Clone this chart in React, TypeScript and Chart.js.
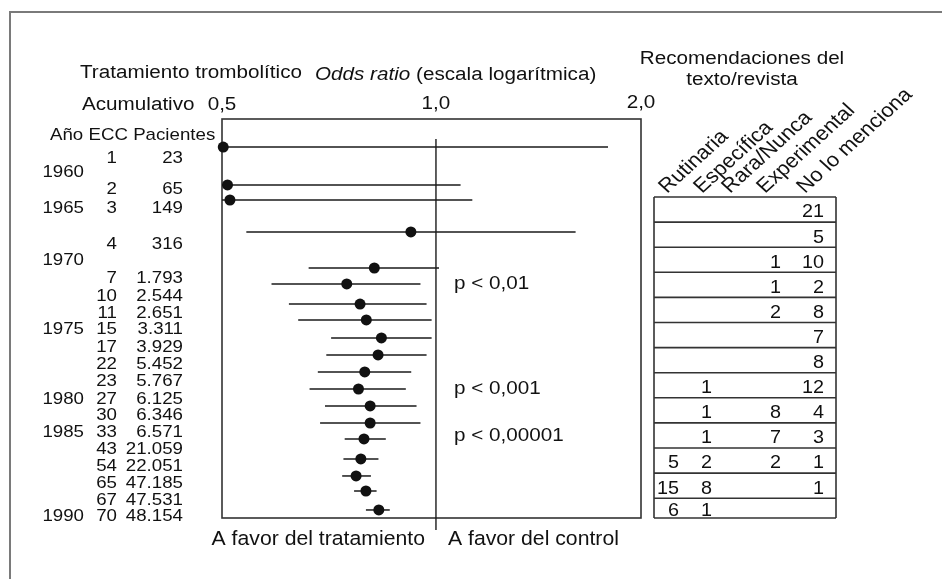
import React, { useEffect, useRef } from "react";
import { Chart, registerables } from "chart.js";
Chart.register(...registerables);

const FONT = '"Liberation Sans", Arial, Helvetica, sans-serif';
const SX = 1.1;
const INK = "#111";

// ---------- data ----------
const trials = ["1", "2", "3", "4", "7", "10", "11", "15", "17", "22", "23", "27", "30", "33", "43", "54", "65", "67", "70"];
const patients = ["23", "65", "149", "316", "1.793", "2.544", "2.651", "3.311", "3.929", "5.452", "5.767", "6.125", "6.346", "6.571", "21.059", "22.051", "47.185", "47.531", "48.154"];
const oddsRatio = [0.502, 0.509, 0.513, 0.922, 0.819, 0.749, 0.782, 0.798, 0.838, 0.829, 0.794, 0.778, 0.808, 0.808, 0.792, 0.784, 0.772, 0.797, 0.831];
const ciLow = [0.3, 0.3, 0.3, 0.541, 0.662, 0.587, 0.621, 0.64, 0.712, 0.701, 0.682, 0.664, 0.698, 0.687, 0.744, 0.741, 0.738, 0.767, 0.797];
const ciHigh = [1.746, 1.083, 1.125, 1.572, 1.01, 0.951, 0.97, 0.986, 0.986, 0.97, 0.923, 0.907, 0.939, 0.951, 0.85, 0.83, 0.81, 0.825, 0.861];
const pointRows = [1.64, 3.86, 4.74, 6.61, 8.72, 9.65, 10.83, 11.76, 12.81, 13.81, 14.8, 15.8, 16.79, 17.79, 18.72, 19.89, 20.89, 21.77, 22.88];
const labelRows = [2.19, 4.01, 5.15, 7.23, 9.27, 10.3, 11.29, 12.23, 13.28, 14.28, 15.24, 16.32, 17.26, 18.23, 19.22, 20.25, 21.24, 22.21, 23.17];
const years = ["1960", "1965", "1970", "1975", "1980", "1985", "1990"];
const yearRows = [3.01, 5.15, 8.19, 12.23, 16.32, 18.23, 23.17];
const axisTicks = [0.5, 1.0, 2.0];
const axisTickLabels = ["0,5", "1,0", "2,0"];
const pLabels = ["p < 0,01", "p < 0,001", "p < 0,00001"];
const pRows = [9.54, 15.68, 18.43];
const pOdds = 1.06;

const recCategories = ["Rutinaria", "Específica", "Rara/Nunca", "Experimental", "No lo menciona"];
const recRutinaria = [null, null, null, null, null, null, null, null, null, null, 5, 15, 6];
const recEspecifica = [null, null, null, null, null, null, null, 1, 1, 1, 2, 8, 1];
const recRaraNunca = [null, null, null, null, null, null, null, null, null, null, null, null, null];
const recExperimental = [null, null, 1, 1, 2, null, null, null, 8, 7, 2, null, null];
const recNoMenciona = [21, 5, 10, 2, 8, 7, 8, 12, 4, 3, 1, 1, null];

// ---------- helpers ----------
function txt(
  ctx: CanvasRenderingContext2D,
  s: string,
  x: number,
  y: number,
  size: number,
  align: CanvasTextAlign = "left",
  italic = false
) {
  ctx.save();
  ctx.translate(x, y);
  ctx.scale(SX, 1);
  ctx.font = `${italic ? "italic " : ""}${size}px ${FONT}`;
  ctx.textAlign = align;
  ctx.textBaseline = "alphabetic";
  ctx.fillStyle = INK;
  ctx.fillText(s, 0, 0);
  ctx.restore();
}
function txtW(ctx: CanvasRenderingContext2D, s: string, size: number, italic = false) {
  ctx.save();
  ctx.font = `${italic ? "italic " : ""}${size}px ${FONT}`;
  const w = ctx.measureText(s).width * SX;
  ctx.restore();
  return w;
}

const decorPlugin = {
  id: "decor",
  beforeDatasetsDraw(chart: any) {
    const ctx: CanvasRenderingContext2D = chart.ctx;
    const { left, right, top, bottom } = chart.chartArea;
    const xs = chart.scales.x;
    const ys = chart.scales.y;
    const W = chart.width;
    const H = chart.height;

    // outer frame
    ctx.save();
    ctx.strokeStyle = "#7a7a7a";
    ctx.lineWidth = 2;
    ctx.beginPath();
    ctx.moveTo(10, H);
    ctx.lineTo(10, 12);
    ctx.lineTo(W, 12);
    ctx.stroke();

    // forest box
    ctx.strokeStyle = "#333";
    ctx.lineWidth = 1.6;
    ctx.strokeRect(left, top, right - left, bottom - top);

    // reference line at 1.0
    const x1 = xs.getPixelForValue(1);
    ctx.strokeStyle = "#1a1a1a";
    ctx.lineWidth = 1.4;
    ctx.beginPath();
    ctx.moveTo(x1, top + 20);
    ctx.lineTo(x1, bottom + 12);
    ctx.stroke();

    // CI bars
    ctx.strokeStyle = "#1a1a1a";
    ctx.lineWidth = 1.5;
    for (let i = 0; i < oddsRatio.length; i++) {
      const y = ys.getPixelForValue(pointRows[i]);
      const a = Math.max(left, xs.getPixelForValue(ciLow[i]));
      const b = Math.min(right, xs.getPixelForValue(ciHigh[i]));
      ctx.beginPath();
      ctx.moveTo(a, y);
      ctx.lineTo(b, y);
      ctx.stroke();
    }
    ctx.restore();

    const F = 18.8;
    // titles
    txt(ctx, "Tratamiento trombolítico", 80, 78, F);
    const oddsW = txtW(ctx, "Odds ratio", F, true);
    txt(ctx, "Odds ratio", 315, 80, F, "left", true);
    txt(ctx, " (escala logarítmica)", 315 + oddsW, 80, F);
    txt(ctx, "Acumulativo", 82, 110, F);
    axisTicks.forEach((v, i) => {
      const px = Math.min(right, xs.getPixelForValue(v));
      txt(ctx, axisTickLabels[i], px, 110 - i, F, "center");
    });

    // left columns
    const lf = 17;
    const off = 0.358 * lf;
    txt(ctx, "Año ECC Pacientes", 50, 140, lf);
    trials.forEach((t, i) => {
      const y = ys.getPixelForValue(labelRows[i]) + off;
      txt(ctx, t, 117, y, lf, "right");
      txt(ctx, patients[i], 183, y, lf, "right");
    });
    years.forEach((yr, i) => {
      const y = ys.getPixelForValue(yearRows[i]) + off;
      txt(ctx, yr, 84, y, lf, "right");
    });

    // p labels
    pLabels.forEach((p, i) => {
      const y = ys.getPixelForValue(pRows[i]) + 0.358 * F;
      txt(ctx, p, xs.getPixelForValue(pOdds), y, F);
    });

    // bottom labels
    txt(ctx, "A favor del tratamiento", x1 - 11, 545, 19.3, "right");
    txt(ctx, "A favor del control", x1 + 12, 545, 19.3, "left");

    // right header
    txt(ctx, "Recomendaciones del", 742, 64, F, "center");
    txt(ctx, "texto/revista", 742, 85, F, "center");

    const anchorsX = [667, 702, 730, 765, 805];
    recCategories.forEach((c, i) => {
      ctx.save();
      ctx.translate(anchorsX[i], 194);
      ctx.scale(SX, 1);
      ctx.rotate(-Math.PI / 4);
      ctx.font = `20px ${FONT}`;
      ctx.fillStyle = INK;
      ctx.textAlign = "left";
      ctx.textBaseline = "alphabetic";
      ctx.fillText(c, 0, 0);
      ctx.restore();
    });

    // table
    const tL = 654, tR = 836, tTop = 197, rowH = 25.1;
    const cols = [recRutinaria, recEspecifica, recRaraNunca, recExperimental, recNoMenciona];
    const colX = [679, 712, 746, 781, 824];
    const n = recNoMenciona.length;
    const edges: number[] = [];
    for (let r = 0; r < n; r++) edges.push(tTop + r * rowH);
    edges.push(518);
    ctx.save();
    ctx.strokeStyle = "#333";
    ctx.lineWidth = 1.6;
    ctx.beginPath();
    edges.forEach((e) => {
      ctx.moveTo(tL, e);
      ctx.lineTo(tR, e);
    });
    ctx.moveTo(tL, tTop);
    ctx.lineTo(tL, 518);
    ctx.moveTo(tR, tTop);
    ctx.lineTo(tR, 518);
    ctx.stroke();
    ctx.restore();
    for (let r = 0; r < n; r++) {
      const mid = (edges[r] + edges[r + 1]) / 2 + 1.5;
      cols.forEach((col, ci) => {
        const v = col[r];
        if (v !== null && v !== undefined) txt(ctx, String(v), colX[ci], mid + 0.358 * 18, 18, "right");
      });
    }
  },
};

export default function App() {
  const ref = useRef<HTMLCanvasElement>(null);
  useEffect(() => {
    if (!ref.current) return;
    const chart = new Chart(ref.current, {
      type: "scatter",
      data: {
        datasets: [
          {
            data: oddsRatio.map((v, i) => ({ x: v, y: pointRows[i] })),
            pointRadius: 5.5,
            pointHoverRadius: 5.5,
            backgroundColor: "#111",
            borderWidth: 0,
            clip: false as any,
          },
        ],
      },
      options: {
        animation: false,
        responsive: false,
        devicePixelRatio: 1,
        events: [],
        layout: { padding: { left: 222, right: 301, top: 119, bottom: 61 } },
        plugins: { legend: { display: false }, tooltip: { enabled: false } },
        scales: {
          x: { type: "logarithmic", min: 0.5, max: 1.943, display: false },
          y: { type: "linear", min: 0, max: 23.35, reverse: true, display: false },
        },
      },
      plugins: [decorPlugin],
    });
    return () => chart.destroy();
  }, []);
  return (
    <div style={{ position: "absolute", left: 0, top: 0, width: 942, height: 579, background: "#fff" }}>
      <canvas ref={ref} width={942} height={579} style={{ display: "block" }} />
    </div>
  );
}
